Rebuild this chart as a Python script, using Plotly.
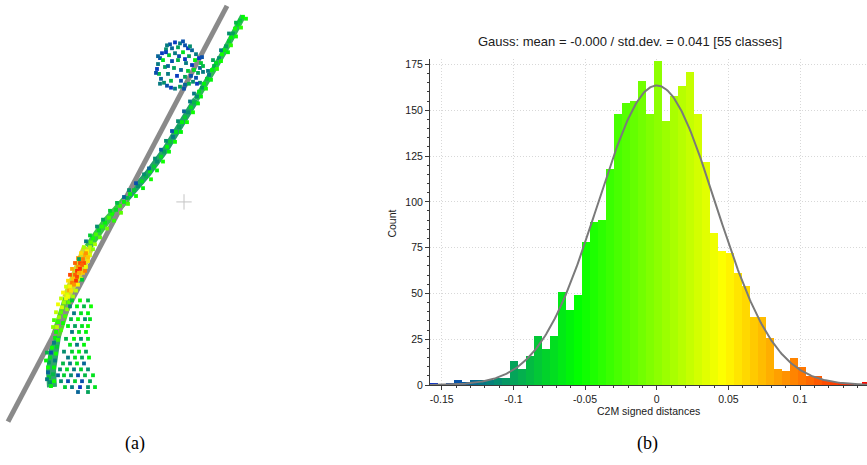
import numpy as np
import plotly.graph_objects as go

# ---------------- panel (b): histogram of C2M signed distances ----------------
hist_min = -0.1582
bin_width = 0.005581
axis_x_right = 0.1467
counts = [1, 0, 1, 3, 2, 3, 3, 3, 4, 4,
          13, 9, 16, 27, 20, 27, 51, 41, 49, 78,
          89, 90, 118, 148, 154, 155, 166, 148, 177, 144,
          158, 163, 171, 148, 122, 83, 73, 72, 61, 54,
          37, 37, 26, 9, 8, 15, 10, 5, 5, 3,
          2, 1, 1, 0, 2]
gauss_mean = 0.0
gauss_std = 0.041
x_tick_vals = [-0.15, -0.1, -0.05, 0, 0.05, 0.1]
x_tick_text = ['-0.15', '-0.1', '-0.05', '0', '0.05', '0.1']
y_tick_vals = [0, 25, 50, 75, 100, 125, 150, 175]
title_text = 'Gauss: mean = -0.000 / std.dev. = 0.041 [55 classes]'

# ---------------- panel (a): point cloud (screen coords, C2M value) ----------------
gray_band_x = [227, 8]
gray_band_y = [5, 427]

# stripe body, split in sections: (x list, y list, colour, width)
stripe_sections = [
    ([243, 225, 196], [15, 50, 100], '#2fb85a', 6),
    ([196, 166, 148, 127], [100, 150, 175, 200], '#23a06a', 7),
    ([127, 105, 88], [200, 225, 250], '#3cc448', 8),
    ([88, 77, 68], [250, 275, 302], '#d0d830', 12),
    ([68, 60, 56], [302, 325, 340], '#5ccc34', 10),
    ([56, 54, 51, 52], [340, 350, 375, 392], '#2fa46e', 10),
]

stripe_pts = [
    (243, 16, -0.06), (240, 20, -0.08), (238, 24, -0.07), (235, 28, -0.05), (233, 33, -0.10),
    (231, 37, -0.06), (229, 41, -0.08), (226, 46, -0.10), (224, 50, -0.06), (222, 54, -0.05),
    (219, 58, -0.11), (216, 63, -0.07), (214, 66, -0.09), (212, 70, -0.06), (209, 75, -0.12),
    (207, 79, -0.08), (204, 84, -0.06), (202, 88, -0.10), (199, 92, -0.07), (197, 97, -0.11),
    (246, 18, -0.05), (241, 27, -0.04), (236, 36, -0.05), (231, 45, -0.04), (228, 52, -0.06),
    (221, 61, -0.05), (217, 69, -0.04), (211, 80, -0.06), (206, 89, -0.05), (201, 97, -0.06),
    (236, 22, -0.09), (229, 33, -0.11), (221, 50, -0.12), (213, 60, -0.10), (208, 71, -0.12),
    (200, 83, -0.11), (194, 94, -0.12),
    (194, 103, -0.09), (191, 108, -0.07), (188, 113, -0.11), (185, 118, -0.08), (182, 123, -0.06),
    (179, 128, -0.10), (176, 133, -0.07), (173, 138, -0.12), (170, 143, -0.08), (167, 148, -0.06),
    (164, 153, -0.10), (161, 158, -0.07), (157, 163, -0.11), (154, 168, -0.08), (150, 173, -0.06),
    (146, 178, -0.09), (142, 183, -0.07), (138, 188, -0.11), (134, 192, -0.08), (130, 196, -0.06),
    (127, 200, -0.09),
    (198, 104, -0.06), (193, 113, -0.05), (187, 123, -0.05), (181, 133, -0.06), (175, 143, -0.05),
    (169, 153, -0.06), (163, 163, -0.05), (157, 172, -0.06), (151, 181, -0.05), (143, 190, -0.06),
    (136, 198, -0.05), (190, 102, -0.12), (184, 112, -0.13), (178, 122, -0.11), (172, 132, -0.14),
    (166, 142, -0.11), (161, 151, -0.13), (155, 160, -0.11), (149, 170, -0.13), (144, 176, -0.11),
    (136, 185, -0.14), (129, 192, -0.11), (124, 199, -0.13),
    (124, 204, -0.06), (120, 208, -0.04), (116, 212, -0.07), (112, 216, -0.05), (109, 220, -0.03),
    (105, 225, -0.06), (102, 229, -0.04), (99, 233, -0.07), (96, 237, -0.03), (93, 241, -0.05),
    (91, 245, -0.02), (128, 206, -0.03), (121, 215, -0.02), (114, 223, -0.04), (107, 231, -0.01),
    (100, 240, -0.02), (95, 247, 0.01), (117, 205, -0.09), (110, 213, -0.08), (103, 222, -0.10),
    (97, 229, -0.11), (90, 238, -0.08), (86, 244, -0.12),
    (90, 250, 0.02), (87, 254, 0.05), (85, 258, 0.08), (83, 262, 0.10), (80, 266, 0.12),
    (78, 270, 0.09), (77, 274, 0.13), (75, 278, 0.11), (73, 282, 0.07), (72, 286, 0.10),
    (70, 290, 0.05), (69, 294, 0.08), (67, 298, 0.03), (66, 302, 0.04),
    (84, 250, 0.01), (81, 256, 0.06), (78, 261, 0.09), (75, 266, 0.11), (72, 272, 0.08),
    (70, 278, 0.12), (68, 284, 0.06), (66, 290, 0.03), (63, 296, 0.05), (61, 302, 0.02),
    (93, 252, 0.00), (90, 258, 0.03), (88, 264, 0.06), (86, 270, 0.04), (83, 276, 0.07),
    (81, 282, 0.03), (78, 288, 0.05), (76, 294, 0.02), (73, 300, 0.01), (79, 262, -0.10),
    (82, 283, -0.08), (86, 256, 0.09), (84, 266, 0.12), (80, 272, 0.13), (77, 280, 0.12),
    (74, 288, 0.09), (71, 294, 0.06), (68, 300, 0.04), (88, 260, 0.07), (85, 274, 0.10),
    (76, 284, 0.13), (82, 268, 0.11), (79, 276, 0.08),
    (64, 306, 0.01), (62, 311, 0.03), (61, 316, -0.02), (59, 321, 0.00), (58, 326, -0.04),
    (57, 331, 0.02), (56, 336, -0.05), (69, 306, -0.02), (67, 313, 0.00), (65, 320, -0.03),
    (63, 327, -0.05), (61, 334, -0.03), (58, 308, 0.04), (56, 316, 0.02), (54, 324, -0.03),
    (53, 331, 0.00),
    (55, 342, -0.06), (54, 347, -0.12), (52, 352, -0.05), (51, 357, -0.14), (50, 362, -0.07),
    (49, 367, -0.10), (48, 372, -0.05), (48, 377, -0.13), (49, 382, -0.08), (50, 387, -0.11),
    (51, 391, -0.06), (58, 344, -0.04), (57, 351, -0.08), (56, 358, -0.05), (55, 365, -0.12),
    (54, 372, -0.06), (53, 379, -0.09), (54, 386, -0.05), (47, 357, -0.09), (46, 365, -0.06),
    (47, 384, -0.12),
]

sphere_pts = [
    (170, 44, -0.14), (175, 42, -0.15), (180, 43, -0.12), (185, 45, -0.14), (178, 47, -0.10),
    (172, 48, -0.13), (188, 48, -0.15), (166, 49, -0.11), (192, 50, -0.13), (162, 53, -0.15),
    (160, 58, -0.14), (158, 64, -0.12), (157, 69, -0.15), (159, 74, -0.09), (161, 79, -0.13),
    (164, 83, -0.11), (167, 86, -0.14), (196, 54, -0.12), (199, 58, -0.15), (201, 63, -0.08),
    (200, 68, -0.13), (198, 73, -0.10), (196, 78, -0.14), (193, 82, -0.11), (171, 88, -0.15),
    (175, 89, -0.12), (180, 87, -0.10), (185, 85, -0.13), (189, 84, -0.09), (169, 55, -0.08),
    (175, 53, -0.12), (183, 52, -0.07), (189, 56, -0.10), (172, 61, -0.14), (178, 60, -0.09),
    (186, 63, -0.12), (192, 65, -0.15), (174, 68, -0.10), (181, 70, -0.13), (188, 71, -0.08),
    (168, 74, -0.12), (177, 76, -0.15), (185, 77, -0.10), (171, 81, -0.09), (181, 81, -0.14),
    (163, 60, -0.07), (195, 60, -0.06), (165, 67, -0.10), (194, 70, -0.07), (203, 66, -0.09),
    (167, 45, -0.12), (183, 41, -0.14), (190, 46, -0.11), (158, 56, -0.13), (156, 73, -0.14),
    (160, 84, -0.12), (202, 57, -0.14), (203, 72, -0.12), (197, 84, -0.15), (184, 89, -0.14),
    (166, 52, -0.15), (179, 56, -0.14), (185, 59, -0.15), (168, 66, -0.13), (191, 76, -0.14),
]

lower_pts = [
    (72, 304, -0.08), (80, 304, -0.05), (88, 304, -0.09),
    (70, 310, -0.11), (77, 310, -0.06), (84, 310, -0.09), (91, 310, -0.05),
    (74, 317, -0.12), (81, 317, -0.07), (88, 317, -0.06),
    (71, 323, -0.09), (78, 323, -0.05), (85, 323, -0.11), (90, 323, -0.07),
    (68, 330, -0.06), (75, 330, -0.10), (82, 330, -0.07), (88, 330, -0.05),
    (72, 336, -0.12), (79, 336, -0.07), (86, 336, -0.06),
    (66, 343, -0.09), (74, 343, -0.06), (81, 343, -0.11), (88, 343, -0.07),
    (70, 349, -0.07), (77, 349, -0.12), (84, 349, -0.06),
    (64, 356, -0.11), (72, 356, -0.08), (79, 356, -0.06), (86, 356, -0.10),
    (68, 362, -0.12), (75, 362, -0.07), (82, 362, -0.10), (89, 362, -0.06),
    (63, 368, -0.09), (70, 368, -0.12), (77, 368, -0.07), (84, 368, -0.13),
    (60, 374, -0.11), (67, 374, -0.07), (74, 374, -0.12), (81, 374, -0.08), (88, 374, -0.11),
    (58, 380, -0.13), (64, 380, -0.08), (71, 380, -0.11), (78, 380, -0.14), (85, 380, -0.09), (93, 380, -0.07),
    (61, 386, -0.11), (68, 386, -0.14), (75, 386, -0.08), (82, 386, -0.14), (90, 386, -0.10),
    (65, 392, -0.08), (72, 392, -0.12), (80, 392, -0.15), (88, 392, -0.11), (95, 392, -0.07),
    (78, 397, -0.13), (88, 397, -0.10),
]

cross_x = [184]
cross_y = [204]

# ---------------- styling ----------------
colorscale = [[0.0, '#0a2ad0'], [1 / 3, '#00ff00'], [2 / 3, '#ffff00'], [1.0, '#ff0000']]
hist_max = hist_min + bin_width * len(counts)
W, H = 867, 465
plot_left_px, plot_bottom_px = 430, 390
y_range = [0, 178]
px_per_count = 1.861

fig = go.Figure()

# ---- panel (a) ----
for sx, sy, scol, swid in stripe_sections:
    fig.add_trace(go.Scatter(x=sx, y=sy, mode='lines',
                             line=dict(color=scol, width=swid), hoverinfo='skip',
                             xaxis='x', yaxis='y'))
fig.add_trace(go.Scatter(x=gray_band_x, y=gray_band_y, mode='lines',
                         line=dict(color='#8a8a8a', width=5), hoverinfo='skip',
                         xaxis='x', yaxis='y'))
for pts in (stripe_pts, sphere_pts, lower_pts):
    fig.add_trace(go.Scatter(
        x=[p[0] for p in pts], y=[p[1] for p in pts], mode='markers',
        marker=dict(symbol='square', size=3.8, color=[p[2] for p in pts],
                    colorscale=colorscale, cmin=hist_min, cmax=hist_max,
                    line=dict(width=0)),
        xaxis='x', yaxis='y'))
fig.add_trace(go.Scatter(x=cross_x, y=cross_y, mode='markers',
                         marker=dict(symbol='cross-thin', size=11,
                                     line=dict(color='#c4c4c4', width=1)),
                         xaxis='x', yaxis='y'))

# ---- panel (b) ----
centers = [hist_min + (i + 0.5) * bin_width for i in range(len(counts))]
fig.add_trace(go.Bar(x=centers, y=counts, width=bin_width,
                     marker=dict(color=centers, colorscale=colorscale,
                                 cmin=hist_min, cmax=hist_max, line=dict(width=0)),
                     xaxis='x2', yaxis='y2'))
total = sum(counts)
gx = np.linspace(hist_min, axis_x_right, 400)
gy = total * bin_width / (gauss_std * np.sqrt(2 * np.pi)) * np.exp(-0.5 * ((gx - gauss_mean) / gauss_std) ** 2)
fig.add_trace(go.Scatter(x=gx, y=gy, mode='lines', line=dict(color='#7a7a7a', width=2),
                         xaxis='x2', yaxis='y2'))

top_px = plot_bottom_px - (y_range[1] - y_range[0]) * px_per_count
axis_font = dict(family='Liberation Sans, Arial, sans-serif', size=10.5, color='#202020')

fig.update_layout(
    width=W, height=H, margin=dict(l=0, r=0, t=0, b=0),
    paper_bgcolor='white', plot_bgcolor='white', showlegend=False,
    bargap=0,
    xaxis=dict(domain=[0, 260 / W], range=[0, 260], visible=False),
    yaxis=dict(domain=[0, 1], range=[H, 0], visible=False),
    xaxis2=dict(domain=[plot_left_px / W, 1], range=[hist_min, axis_x_right], anchor='y2',
                showline=True, linecolor='#3a3a3a', linewidth=1,
                ticks='outside', ticklen=4, tickcolor='#3a3a3a',
                tickmode='array', tickvals=x_tick_vals, ticktext=x_tick_text,
                tickfont=axis_font, zeroline=False,
                showgrid=True, gridcolor='#d8d8d8', griddash='1px,2px', gridwidth=1,
                minor=dict(dtick=0.01, tick0=0, ticks='outside', ticklen=2,
                           tickcolor='#3a3a3a', showgrid=False)),
    yaxis2=dict(domain=[(H - plot_bottom_px) / H, (H - top_px) / H], range=y_range,
                anchor='x2', showline=True, linecolor='#3a3a3a', linewidth=1,
                ticks='outside', ticklen=4, tickcolor='#3a3a3a',
                tickmode='array', tickvals=y_tick_vals, tickfont=axis_font,
                zeroline=False, showgrid=True, gridcolor='#d8d8d8', griddash='1px,2px', gridwidth=1,
                minor=dict(dtick=5, tick0=0, ticks='outside', ticklen=2,
                           tickcolor='#3a3a3a', showgrid=False)),
    annotations=[
        dict(text=title_text, x=630 / W, y=(H - 41) / H, xref='paper', yref='paper',
             showarrow=False, xanchor='center', yanchor='middle',
             font=dict(family='Liberation Sans, Arial, sans-serif', size=13, color='#202020')),
        dict(text='C2M signed distances', x=648.5 / W, y=(H - 416.5) / H, xref='paper', yref='paper',
             showarrow=False, xanchor='center', yanchor='middle', font=axis_font),
        dict(text='Count', x=392 / W, y=(H - 226) / H, xref='paper', yref='paper', textangle=-90,
             showarrow=False, xanchor='center', yanchor='middle', font=axis_font),
        dict(text='(a)', x=135 / W, y=(H - 449) / H, xref='paper', yref='paper',
             showarrow=False, xanchor='center', yanchor='middle',
             font=dict(family='Liberation Serif, Times New Roman, serif', size=18, color='black')),
        dict(text='(b)', x=647 / W, y=(H - 449) / H, xref='paper', yref='paper',
             showarrow=False, xanchor='center', yanchor='middle',
             font=dict(family='Liberation Serif, Times New Roman, serif', size=18, color='black')),
    ],
)

fig.write_html('out.html')
